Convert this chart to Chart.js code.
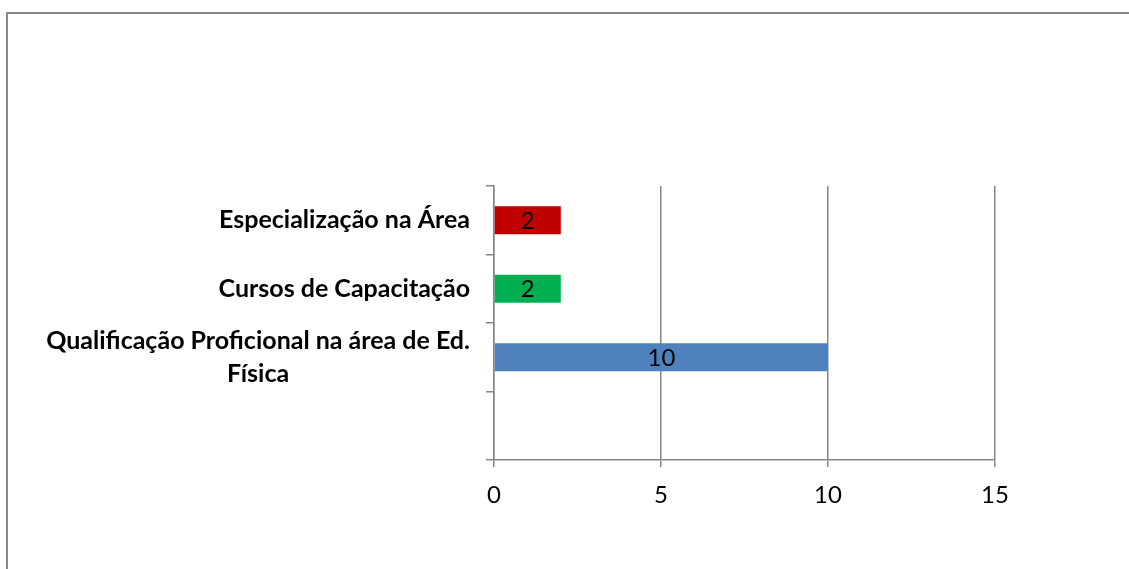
<!DOCTYPE html>
<html>
<head>
<meta charset="utf-8">
<script src="https://cdn.jsdelivr.net/npm/chart.js@4.4.1/dist/chart.umd.min.js"></script>
<style>
  html, body { margin: 0; padding: 0; background: #fff; }
  #wrap { position: relative; width: 1129px; height: 569px; overflow: hidden; }
  #frame { position: absolute; left: 6px; top: 12px; width: 1130px; height: 600px;
           border-top: 2px solid #8a8a8a; border-left: 2px solid #8a8a8a; box-sizing: border-box; }
  canvas { position: absolute; left: 0; top: 0; }
</style>
</head>
<body>
<div id="wrap">
  <div id="frame"></div>
  <canvas id="c" width="1129" height="569"></canvas>
</div>
<script>
const categories = [
  "Especialização na Área",
  "Cursos de Capacitação",
  ["Qualificação Proficional na área de Ed.", "Física"],
  ""
];
const values = [2, 2, 10, null];
const barColors = ["#C00000", "#00B050", "#4F81BD", "#4F81BD"];
const xTicks = [0, 5, 10, 15];

const LABEL_FONT = "bold 25px Lato, 'Liberation Sans', sans-serif";
const TICK_FONT_FAMILY = "Lato, 'Liberation Sans', sans-serif";

const customLabels = {
  id: 'customLabels',
  afterDraw(chart) {
    const ctx = chart.ctx;
    const y = chart.scales.y;
    const meta = chart.getDatasetMeta(0);
    ctx.save();
    ctx.font = LABEL_FONT;
    ctx.fillStyle = '#000';
    ctx.textBaseline = 'middle';
    const rightEdge = y.right - 24;
    const lineH = 33;
    categories.forEach((lab, i) => {
      const lines = Array.isArray(lab) ? lab : [lab];
      if (!lines.join('')) return;
      const widths = lines.map(l => ctx.measureText(l).width);
      const maxW = Math.max(...widths);
      const cx = rightEdge - maxW / 2;
      const cy = y.getPixelForValue(i);
      const startY = cy - (lines.length - 1) * lineH / 2;
      ctx.textAlign = 'center';
      lines.forEach((l, k) => ctx.fillText(l, cx, startY + k * lineH));
    });
    ctx.font = "24px " + TICK_FONT_FAMILY;
    ctx.textAlign = 'center';
    meta.data.forEach((bar, i) => {
      if (values[i] == null) return;
      const cx = (bar.x + bar.base) / 2;
      ctx.fillText(String(values[i]), cx, bar.y + 1);
    });
    ctx.restore();
  }
};

new Chart(document.getElementById('c'), {
  type: 'bar',
  data: {
    labels: categories,
    datasets: [{
      data: values,
      backgroundColor: barColors,
      borderWidth: 0,
      categoryPercentage: 0.41,
      barPercentage: 1.0
    }]
  },
  options: {
    indexAxis: 'y',
    responsive: false,
    animation: false,
    events: [],
    layout: { padding: { left: 0, top: 186, right: 134, bottom: 48 } },
    plugins: { legend: { display: false }, tooltip: { enabled: false }, title: { display: false } },
    scales: {
      x: {
        min: 0, max: 15,
        afterBuildTicks: s => { s.ticks = xTicks.map(v => ({ value: v })); },
        afterFit: s => { s.height = 61; },
        grid: { color: '#868686', lineWidth: 1.5, tickLength: 7, drawOnChartArea: true },
        border: { color: '#868686', width: 1.5 },
        ticks: { color: '#000', font: { size: 24, family: TICK_FONT_FAMILY }, padding: 14 }
      },
      y: {
        afterFit: s => { s.width = 494; },
        grid: { color: '#868686', lineWidth: 1.5, tickLength: 8, drawOnChartArea: false, offset: true },
        border: { color: '#868686', width: 1.5 },
        ticks: { display: true, color: 'rgba(0,0,0,0)', font: { size: 1 } }
      }
    }
  },
  plugins: [customLabels]
});
</script>
</body>
</html>
